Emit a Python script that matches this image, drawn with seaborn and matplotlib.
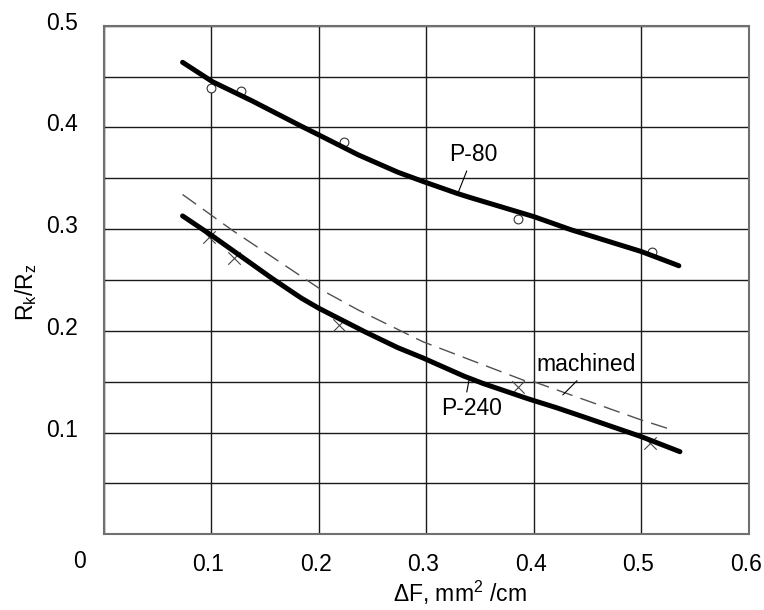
import matplotlib
matplotlib.use("Agg")
import matplotlib.pyplot as plt
import matplotlib.transforms as mtransforms
import seaborn as sns
import pandas as pd

# ---- data ----
p80_curve_x = [0.0732, 0.1009, 0.138, 0.184, 0.200, 0.2367, 0.2734, 0.2966, 0.329, 0.341, 0.400, 0.4343, 0.500, 0.535]
p80_curve_y = [0.464, 0.445, 0.426, 0.401, 0.3926, 0.373, 0.356, 0.347, 0.335, 0.331, 0.3123, 0.2995, 0.278, 0.264]
p80_pts_x = [0.100, 0.128, 0.223, 0.385, 0.510]
p80_pts_y = [0.4385, 0.436, 0.386, 0.3097, 0.278]

p240_curve_x = [0.0732, 0.100, 0.1563, 0.1748, 0.184, 0.200, 0.2426, 0.2734, 0.2966, 0.335, 0.3535, 0.3953, 0.421, 0.449, 0.500, 0.536]
p240_curve_y = [0.313, 0.294, 0.2517, 0.2385, 0.232, 0.2222, 0.1992, 0.1835, 0.1735, 0.1555, 0.148, 0.133, 0.1245, 0.1145, 0.096, 0.0812]
p240_pts_x = [0.098, 0.121, 0.219, 0.385, 0.508]
p240_pts_y = [0.2926, 0.2714, 0.2058, 0.1445, 0.0895]

mach_curve_x = [0.0732, 0.0825, 0.119, 0.184, 0.2026, 0.2367, 0.2966, 0.341, 0.3916, 0.400, 0.500, 0.529]
mach_curve_y = [0.334, 0.327, 0.2992, 0.2533, 0.2402, 0.2205, 0.1894, 0.1714, 0.151, 0.150, 0.1124, 0.1026]

x_ticks = [0.1, 0.2, 0.3, 0.4, 0.5, 0.6]
x_ticklabels = ["0.1", "0.2", "0.3", "0.4", "0.5", "0.6"]
y_ticks = [0.1, 0.2, 0.3, 0.4, 0.5]
y_ticklabels = ["0.1", "0.2", "0.3", "0.4", "0.5"]
y_minor = [0.05, 0.15, 0.25, 0.35, 0.45]

sns.set_theme(style="white")
plt.rcParams["font.family"] = ["Liberation Sans", "DejaVu Sans"]
plt.rcParams["mathtext.fontset"] = "custom"
plt.rcParams["mathtext.rm"] = "Liberation Sans"
plt.rcParams["mathtext.it"] = "Liberation Sans:italic"
plt.rcParams["mathtext.bf"] = "Liberation Sans:bold"
plt.rcParams["text.color"] = "black"
plt.rcParams["axes.labelcolor"] = "black"
plt.rcParams["xtick.color"] = "black"
plt.rcParams["ytick.color"] = "black"

FS = 16.5
fig = plt.figure(figsize=(7.64, 6.10), dpi=100)
ax = fig.add_axes([0.136, 0.1241, 0.844, 0.8338])

df80 = pd.DataFrame({"x": p80_curve_x, "y": p80_curve_y})
df240 = pd.DataFrame({"x": p240_curve_x, "y": p240_curve_y})
dfm = pd.DataFrame({"x": mach_curve_x, "y": mach_curve_y})

sns.lineplot(data=dfm, x="x", y="y", ax=ax, color="#505050", lw=1.0,
             sort=False, zorder=3, linestyle=(0, (12, 6)))
sns.lineplot(data=df80, x="x", y="y", ax=ax, color="black", lw=3.6,
             sort=False, zorder=4, solid_capstyle="round", solid_joinstyle="round")
sns.lineplot(data=df240, x="x", y="y", ax=ax, color="black", lw=3.6,
             sort=False, zorder=4, solid_capstyle="round", solid_joinstyle="round")

sns.scatterplot(x=p80_pts_x, y=p80_pts_y, ax=ax, marker="o", s=40,
                facecolor="white", edgecolor="#333333", linewidth=0.8, zorder=3)
sns.scatterplot(x=p240_pts_x, y=p240_pts_y, ax=ax, marker="x", s=80,
                color="#444444", linewidth=0.8, zorder=3)

ax.set_xlim(0.003, 0.599)
ax.set_ylim(0.0, 0.5)
ax.set_xticks([0.0] + x_ticks)
ax.set_xticklabels([""] + x_ticklabels, fontsize=FS)
ax.set_yticks([0.0] + y_ticks)
ax.set_yticklabels([""] + y_ticklabels, fontsize=FS)
ax.set_yticks(y_minor, minor=True)
ax.tick_params(axis="both", which="both", length=0)
ax.tick_params(axis="x", pad=13.5)
ax.tick_params(axis="y", pad=19)
ax.grid(True, which="both", color="#1a1a1a", lw=1.0)
ax.set_axisbelow(True)
for sp in ax.spines.values():
    sp.set_color("#707070")
    sp.set_linewidth(1.5)

# shift tick labels slightly like the reference
dy = mtransforms.ScaledTranslation(0, 5 / 100, fig.dpi_scale_trans)
for lab in ax.get_yticklabels():
    lab.set_transform(lab.get_transform() + dy)
dx = mtransforms.ScaledTranslation(-3 / 100, 0, fig.dpi_scale_trans)
for lab in ax.get_xticklabels():
    lab.set_transform(lab.get_transform() + dx)

fig.text(80 / 764, 1 - 561.7 / 610, "0", fontsize=FS, ha="center", va="center")

ax.set_xlabel(r"ΔF, mm$^{2}$ /cm", fontsize=FS)
ax.xaxis.set_label_coords(0.552, -0.088)
ax.set_ylabel(r"R$_\mathrm{k}$/R$_\mathrm{z}$", fontsize=FS)
ax.yaxis.set_label_coords(-0.100, 0.476)

arrow = dict(arrowstyle="-", color="black", lw=0.8, shrinkA=1, shrinkB=0)
ax.annotate("P-80", xy=(0.3297, 0.336), xytext=(0.3438, 0.373), fontsize=FS,
            ha="center", va="center", arrowprops=dict(arrow, relpos=(0.4, 0.0)))
ax.annotate("P-240", xy=(0.3398, 0.152), xytext=(0.3425, 0.124), fontsize=FS,
            ha="center", va="center", arrowprops=dict(arrow, relpos=(0.4, 1.0)))
ax.annotate("machined", xy=(0.427, 0.137), xytext=(0.4488, 0.1665), fontsize=FS,
            ha="center", va="center", arrowprops=dict(arrow, relpos=(0.45, 0.0)))

fig.savefig("out.png", dpi=100)
